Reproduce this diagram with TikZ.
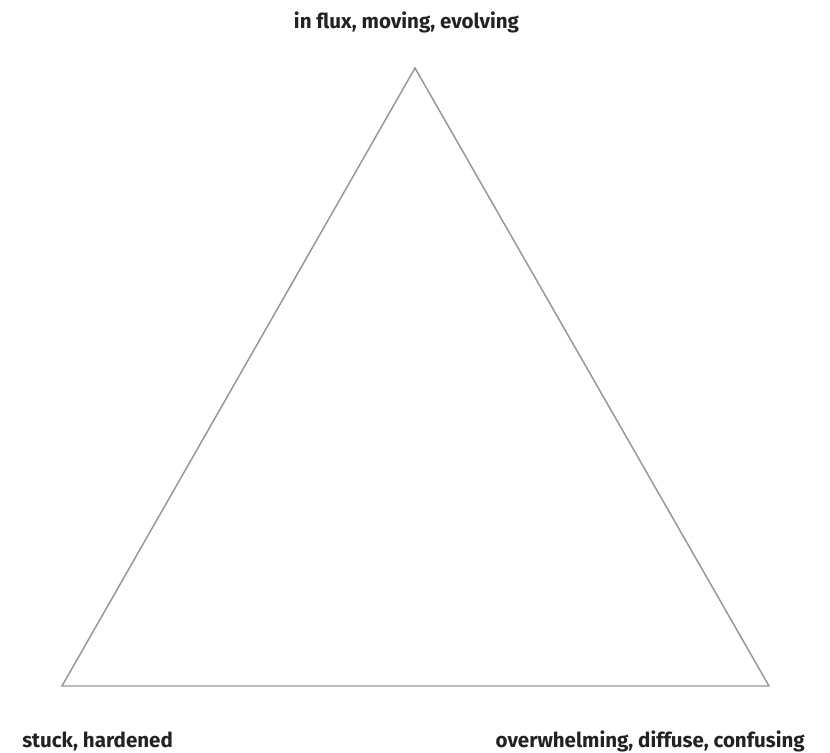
\documentclass[tikz,border=0pt]{standalone}
\usepackage{fontspec}
\setmainfont{Fira Sans}
\usepackage{tikz}
\usetikzlibrary{positioning, calc}
\definecolor{edgegray}{RGB}{150,150,150}
\definecolor{labelblack}{RGB}{34,34,34}
\tikzset{
    corner label/.style={font=\bfseries\fontsize{15.4}{18}\selectfont, text=labelblack, inner sep=0pt, anchor=base},
    side/.style={draw=edgegray, line width=1.1pt, line join=miter}
}

\begin{document}
\begin{tikzpicture}[x=0.75pt, y=-0.75pt]
    \useasboundingbox (0,0) rectangle (830,752);

    % Corners of the triangle
    \coordinate (apex) at (415,68);
    \coordinate (left) at (62,686);
    \coordinate (right) at (769,686);
    \draw[side] (apex) -- (left) -- (right) -- cycle;

    % Labels
    \node[corner label] (fluxlbl) at (406.5,29) {in flux, moving, evolving};
    \node[corner label, anchor=base west] (stucklbl) at (22,747) {stuck, hardened};
    \node[corner label, anchor=base east] (overlbl) at (805,747) {overwhelming, diffuse, confusing};
\end{tikzpicture}
\end{document}
